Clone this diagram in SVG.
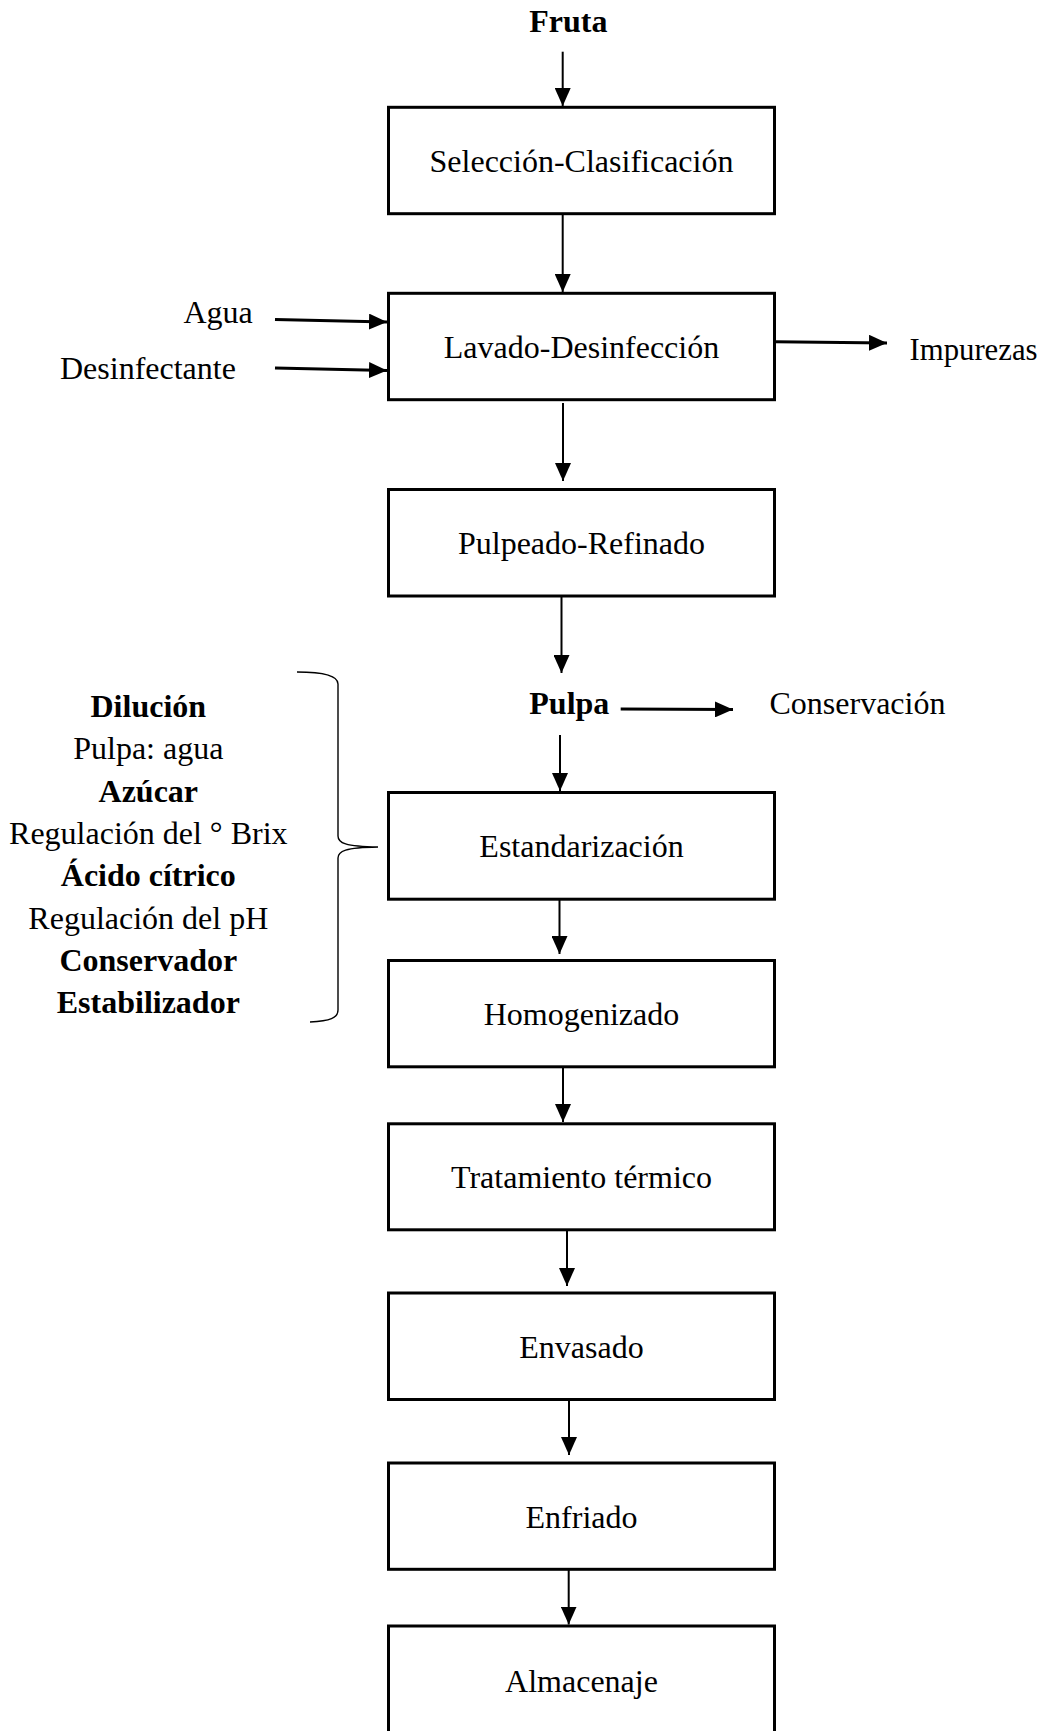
<svg xmlns="http://www.w3.org/2000/svg" width="1047" height="1731" viewBox="0 0 1047 1731">
<defs>
<style>
text{font-family:"Liberation Serif","Times New Roman",serif;font-size:32px;fill:#000}
.b{font-weight:bold}
.c{text-anchor:middle}
.box{fill:#fff;stroke:#000;stroke-width:3}
.v{stroke:#000;stroke-width:2;fill:none}
.h{stroke:#000;stroke-width:3;fill:none}
</style>
<marker id="ah" viewBox="0 0 18 16" refX="18" refY="8" markerWidth="18" markerHeight="16" markerUnits="userSpaceOnUse" orient="auto"><path d="M0,0 L18,8 L0,16 z" fill="#000"/></marker>
</defs>
<rect width="1047" height="1731" fill="#fff"/>
<g id="connectors">
<line class="v" x1="562.7" y1="51.7" x2="562.7" y2="106" marker-end="url(#ah)"/>
<line class="v" x1="562.7" y1="214" x2="562.7" y2="292" marker-end="url(#ah)"/>
<line class="v" x1="563" y1="403" x2="563" y2="481" marker-end="url(#ah)"/>
<line class="v" x1="561.5" y1="597" x2="561.5" y2="673" marker-end="url(#ah)"/>
<line class="v" x1="560" y1="735" x2="560" y2="791" marker-end="url(#ah)"/>
<line class="v" x1="559.5" y1="900" x2="559.5" y2="954" marker-end="url(#ah)"/>
<line class="v" x1="563" y1="1068" x2="563" y2="1122" marker-end="url(#ah)"/>
<line class="v" x1="567" y1="1231" x2="567" y2="1286" marker-end="url(#ah)"/>
<line class="v" x1="569" y1="1401" x2="569" y2="1455" marker-end="url(#ah)"/>
<line class="v" x1="568.7" y1="1570" x2="568.7" y2="1624.5" marker-end="url(#ah)"/>
<line class="h" x1="275" y1="319.5" x2="387" y2="322" marker-end="url(#ah)"/>
<line class="h" x1="275" y1="368" x2="387" y2="370.5" marker-end="url(#ah)"/>
<line class="h" x1="775" y1="341.7" x2="887" y2="343" marker-end="url(#ah)"/>
<line class="h" x1="620.7" y1="709" x2="733" y2="709.5" marker-end="url(#ah)"/>
<path d="M297,672 C325,672 338,676 338,684 L338,836 C338,843 345,846.5 378,847 C345,847.5 338,851 338,858 L338,1010 C338,1018 330,1021 310,1022" fill="none" stroke="#000" stroke-width="1.4"/>
</g>
<g id="fruta"><text class="b" x="529.3" y="32">Fruta</text></g>
<g id="seleccion"><rect class="box" x="388.5" y="107.3" width="386" height="106.4"/><text class="c" x="581.5" y="171.6">Selección-Clasificación</text></g>
<g id="agua"><text x="183.5" y="323.3">Agua</text></g>
<g id="desinfectante"><text x="60" y="379.3">Desinfectante</text></g>
<g id="lavado"><rect class="box" x="388.5" y="293.3" width="386" height="106.4"/><text class="c" x="581.5" y="357.6">Lavado-Desinfección</text></g>
<g id="impurezas"><text x="909.5" y="360" textLength="128" lengthAdjust="spacingAndGlyphs">Impurezas</text></g>
<g id="pulpeado"><rect class="box" x="388.5" y="489.5" width="386" height="106.5"/><text class="c" x="581.5" y="554">Pulpeado-Refinado</text></g>
<g id="pulpa"><text class="b" x="529.3" y="714">Pulpa</text></g>
<g id="conservacion"><text x="769.5" y="714">Conservación</text></g>
<g id="aditivos">
<text class="b c" x="148.3" y="716.7">Dilución</text>
<text class="c" x="148.3" y="759">Pulpa: agua</text>
<text class="b c" x="148.3" y="801.5">Azúcar</text>
<text class="c" x="148.3" y="843.8">Regulación del ° Brix</text>
<text class="b c" x="148.3" y="886.2">Ácido cítrico</text>
<text class="c" x="148.3" y="928.6">Regulación del pH</text>
<text class="b c" x="148.3" y="971">Conservador</text>
<text class="b c" x="148.3" y="1013.4">Estabilizador</text>
</g>
<g id="estandarizacion"><rect class="box" x="388.5" y="792.5" width="386" height="106.7"/><text class="c" x="581.5" y="857">Estandarización</text></g>
<g id="homogenizado"><rect class="box" x="388.5" y="960.5" width="386" height="106.3"/><text class="c" x="581.5" y="1025">Homogenizado</text></g>
<g id="tratamiento"><rect class="box" x="388.5" y="1123.8" width="386" height="106"/><text class="c" x="581.5" y="1188">Tratamiento térmico</text></g>
<g id="envasado"><rect class="box" x="388.5" y="1293" width="386" height="106.5"/><text class="c" x="581.5" y="1357.6">Envasado</text></g>
<g id="enfriado"><rect class="box" x="388.5" y="1463" width="386" height="106.3"/><text class="c" x="581.5" y="1527.6">Enfriado</text></g>
<g id="almacenaje"><rect class="box" x="388.5" y="1626" width="386" height="106.5"/><text class="c" x="581.5" y="1691.5">Almacenaje</text></g>
</svg>
